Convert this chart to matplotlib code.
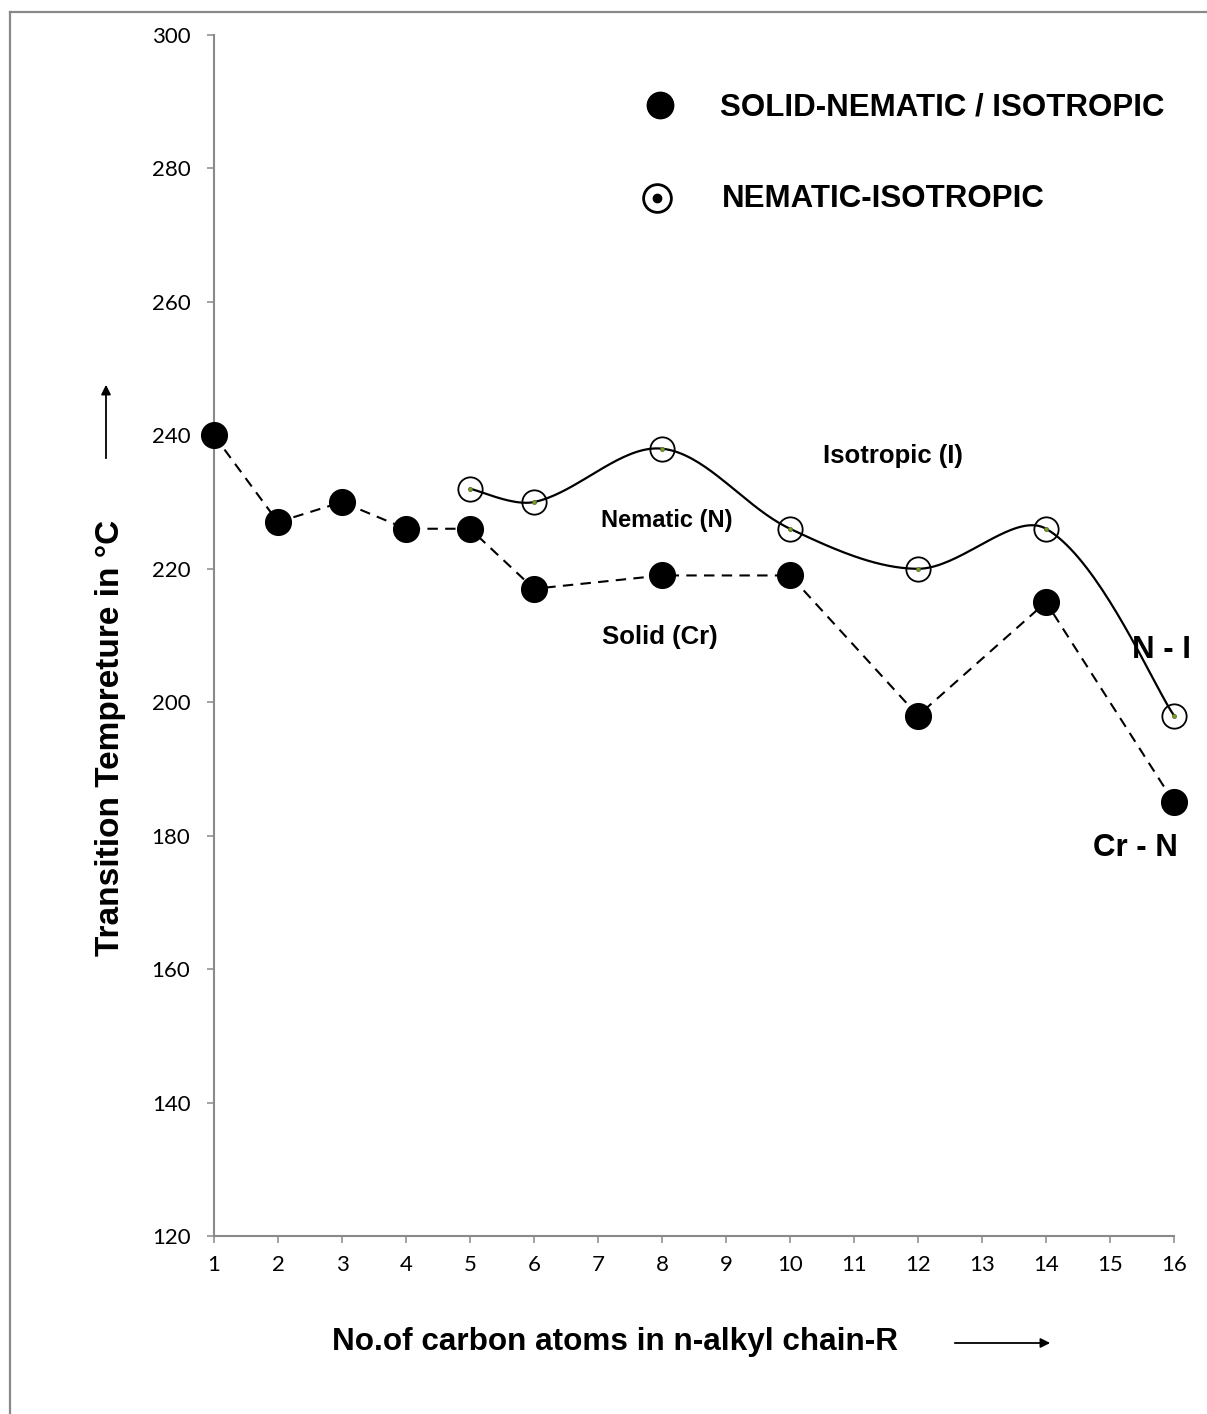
import numpy as np
import matplotlib.pyplot as plt
from matplotlib.lines import Line2D

# Data
#------------------------
n_ticks = list(range(1, 17))                       # category axis 1..16
x_cn = [1, 2, 3, 4, 5, 6, 8, 10, 12, 14, 16]        # solid-nematic / isotropic
y_cn = [240, 227, 230, 226, 226, 217, 219, 219, 198, 215, 185]
x_ni = [5, 6, 8, 10, 12, 14, 16]                    # nematic-isotropic
y_ni = [232, 230, 238, 226, 220, 226, 198]
y_ticks = [120, 140, 160, 180, 200, 220, 240, 260, 280, 300]

W, H = 1207, 1414
def px(x, y):                                       # pixel (from top-left) -> figure fraction
    return x / W, 1 - y / H

def smooth(x, y, n=40, kx=64.0, ky=6.67):
    # Bezier smoothing like a spreadsheet "smoothed line" (done in screen-like units)
    p = np.column_stack([np.array(x) * kx, np.array(y) * ky]).astype(float)
    P = np.vstack([p[0], p, p[-1]])
    segs = []
    t = np.linspace(0, 1, n)[:, None]
    for i in range(1, len(P) - 2):
        p0, p1, p2, p3 = P[i-1], P[i], P[i+1], P[i+2]
        d01 = np.hypot(*(p1 - p0)); d12 = np.hypot(*(p2 - p1)); d23 = np.hypot(*(p3 - p2))
        f1 = d12 / (d01 + d12) / 3.0 if d01 > 0 else 1 / 6.0
        f2 = d12 / (d12 + d23) / 3.0 if d23 > 0 else 1 / 6.0
        c1 = p1 + (p2 - p0) * f1
        c2 = p2 - (p3 - p1) * f2
        segs.append((1-t)**3*p1 + 3*(1-t)**2*t*c1 + 3*(1-t)*t**2*c2 + t**3*p2)
    s = np.vstack(segs)
    return s[:, 0] / kx, s[:, 1] / ky

bold = dict(family='Liberation Sans', weight='bold', color='black')
grey = '#898989'

fig = plt.figure(figsize=(W/100, H/100), dpi=100)
l, b = px(214, 1236)
r, t = px(1174, 35)
ax = fig.add_axes([l, b, r - l, t - b])

# series
#-------
ax.plot(x_cn, y_cn, color='black', lw=1.5, dashes=(5, 3.5), zorder=2, clip_on=False)
ax.plot(x_cn, y_cn, 'o', ms=18.5, mfc='black', mec='black', zorder=3, clip_on=False)
sx, sy = smooth(x_ni, y_ni)
ax.plot(sx, sy, color='black', lw=1.6, zorder=2, clip_on=False)
ax.plot(x_ni, y_ni, 'o', ms=17.5, mfc='none', mec='black', mew=1.3, zorder=3, clip_on=False)
ax.plot(x_ni, y_ni, 'o', ms=3, mfc='#7a9a2a', mec='#556b2f', mew=0.5, zorder=4, clip_on=False)

# axes
#-----
ax.set_xlim(1, 16)
ax.set_ylim(120, 300)
ax.set_xticks(n_ticks)
ax.set_yticks(y_ticks)
for s in ['top', 'right']:
    ax.spines[s].set_visible(False)
for s in ['left', 'bottom']:
    ax.spines[s].set_color(grey)
    ax.spines[s].set_linewidth(1.5)
ax.tick_params(axis='both', direction='out', color=grey, width=1.1, length=5,
               labelsize=16, labelcolor='black')
ax.tick_params(axis='x', pad=9)
ax.tick_params(axis='y', pad=12)
for lab in ax.get_xticklabels() + ax.get_yticklabels():
    lab.set_family('Lato')

# axis titles and arrows
#-----------------------
fig.text(*px(110, 738), 'Transition Tempreture in \u00b0C', rotation=90,
         ha='center', va='center', fontsize=24, **bold)
fig.text(*px(615, 1342), 'No.of carbon atoms in n-alkyl chain-R',
         ha='center', va='center', fontsize=22.7, **bold)
ax.annotate('', xy=px(106, 382), xytext=px(106, 461), xycoords='figure fraction',
            textcoords='figure fraction',
            arrowprops=dict(arrowstyle='-|>', color='black', lw=1.3, mutation_scale=14))
ax.annotate('', xy=px(1053, 1343), xytext=px(952, 1343), xycoords='figure fraction',
            textcoords='figure fraction',
            arrowprops=dict(arrowstyle='-|>', color='black', lw=1.3, mutation_scale=14))

# legend (drawn by hand)
#-----------------------
fig.add_artist(Line2D([px(660, 0)[0]], [px(0, 105)[1]], marker='o', ms=19,
                      mfc='black', mec='black', ls='none'))
fig.add_artist(Line2D([px(657, 0)[0]], [px(0, 198)[1]], marker='o', ms=20,
                      mfc='white', mec='black', mew=2.0, ls='none'))
fig.add_artist(Line2D([px(657, 0)[0]], [px(0, 198)[1]], marker='o', ms=6,
                      mfc='black', mec='black', ls='none'))
fig.text(*px(720, 107), 'SOLID-NEMATIC / ISOTROPIC', ha='left', va='center', fontsize=22.5, **bold)
fig.text(*px(722, 199), 'NEMATIC-ISOTROPIC', ha='left', va='center', fontsize=22.5, **bold)

# region labels
#--------------
fig.text(*px(893, 456), 'Isotropic (I)', ha='center', va='center', fontsize=18.5, **bold)
fig.text(*px(667, 521), 'Nematic (N)', ha='center', va='center', fontsize=17, **bold)
fig.text(*px(660, 637), 'Solid (Cr)', ha='center', va='center', fontsize=18.5, **bold)
fig.text(*px(1161, 650), 'N - I', ha='center', va='center', fontsize=22.5, **bold)
fig.text(*px(1135, 848), 'Cr - N', ha='center', va='center', fontsize=22.5, **bold)

# outer frame
#------------
fx, fy = px(9.5, 11.5)
fig.add_artist(Line2D([fx, 1], [fy, fy], color=grey, lw=1.6))
fig.add_artist(Line2D([fx, fx], [0, fy], color=grey, lw=1.6))

fig.savefig('out.png', dpi=100)
